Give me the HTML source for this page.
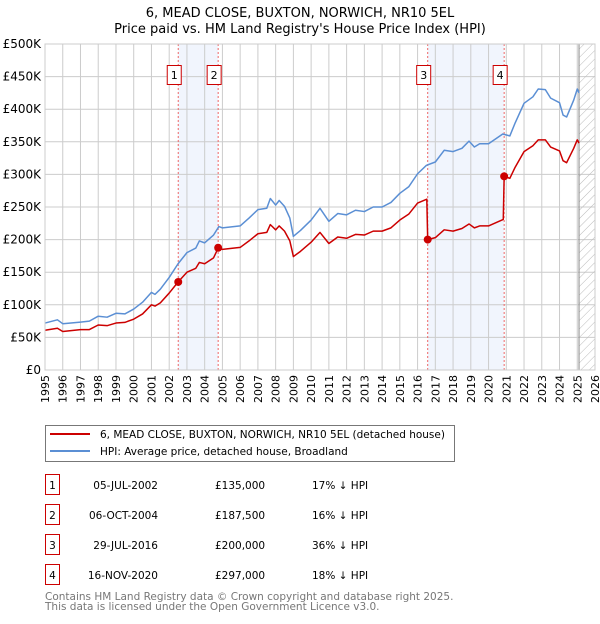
<!DOCTYPE html>
<html><head><meta charset="utf-8"><style>
body{margin:0;background:#fff;font-family:"DejaVu Sans","Liberation Sans",sans-serif;}
svg text{font-family:"DejaVu Sans","Liberation Sans",sans-serif;}
</style></head><body>
<svg id="chart" width="600" height="620" xmlns="http://www.w3.org/2000/svg">
<defs><pattern id="hatch" width="6" height="6" patternUnits="userSpaceOnUse" patternTransform="rotate(45)"><line x1="0" y1="0" x2="0" y2="6" stroke="#bbb" stroke-width="1"/></pattern></defs>
<text x="300" y="17" text-anchor="middle" font-size="13">6, MEAD CLOSE, BUXTON, NORWICH, NR10 5EL</text>
<text x="300" y="33" text-anchor="middle" font-size="13">Price paid vs. HM Land Registry's House Price Index (HPI)</text>
<g id="plot"></g>
<g>
<rect x="45.5" y="425.5" width="409" height="36" fill="#fff" stroke="#777"/>
<line x1="50" y1="434" x2="90" y2="434" stroke="#cc0000" stroke-width="2"/>
<text x="100" y="438" font-size="10.5">6, MEAD CLOSE, BUXTON, NORWICH, NR10 5EL (detached house)</text>
<line x1="50" y1="451" x2="90" y2="451" stroke="#5b8fd4" stroke-width="2"/>
<text x="100" y="455" font-size="10.5">HPI: Average price, detached house, Broadland</text>
</g>
<g id="table" font-size="10.5"></g>
<text x="45" y="600" font-size="10.5" fill="#777">Contains HM Land Registry data © Crown copyright and database right 2025.</text>
<text x="45" y="610" font-size="10.5" fill="#777">This data is licensed under the Open Government Licence v3.0.</text>
</svg>
<script>
const hpiYears=[1995,1995.7,1996,1997,1997.5,1998,1998.5,1999,1999.5,2000,2000.5,2001,2001.2,2001.5,2002,2002.5,2003,2003.5,2003.7,2004,2004.5,2004.8,2005,2006,2006.5,2007,2007.5,2007.7,2008,2008.2,2008.5,2008.8,2009,2009.4,2010,2010.5,2011,2011.5,2012,2012.5,2013,2013.5,2014,2014.5,2015,2015.5,2016,2016.5,2017,2017.5,2018,2018.5,2018.9,2019.2,2019.5,2020,2020.8,2021.2,2021.5,2022,2022.5,2022.8,2023.2,2023.5,2024,2024.2,2024.4,2024.8,2025,2025.1];
const hpiValues=[72,77,71,73.5,75,82.5,81,87,86,93.5,104,119,116,124,142,163,180,187,198,195,207,220,218,221,233,246,248,263,253,260,251,233,205,214,230,248,228,240,238,245,243,250,250,257,271,281,301,314,319,337,335,340,351,342,347,347,362,359,379,409,419,431,430,417,410,391,388,414,431,425];
const ppYears=[1995,1995.7,1996,1997,1997.5,1998,1998.5,1999,1999.5,2000,2000.5,2001,2001.2,2001.5,2002,2002.5,2003,2003.5,2003.7,2004,2004.5,2004.77,2005,2006,2006.5,2007,2007.5,2007.7,2008,2008.2,2008.5,2008.8,2009,2009.4,2010,2010.5,2011,2011.5,2012,2012.5,2013,2013.5,2014,2014.5,2015,2015.5,2016,2016.52,2016.57,2017,2017.5,2018,2018.5,2018.9,2019.2,2019.5,2020,2020.83,2020.88,2021.2,2021.5,2022,2022.5,2022.8,2023.2,2023.5,2024,2024.2,2024.4,2024.8,2025,2025.1];
const ppValues=[61,64,59,62,62,69,68,72,73,78,86,100,98,103,118,135,150,156,165,163,172,187.5,185,188,198,209,211,223,215,221,213,198,174,182,196,211,194,204,202,208,207,213,213,218,230,239,256,262,200,203,215,213,217,224,218,221,221,231,297,294,311,335,344,353,353,342,336,321,318,340,353,348];
const saleYears=[2002.51,2004.76,2016.57,2020.88];
const saleValues=[135,187.5,200,297];
const saleLabels=["1","2","3","4"];
const saleDates=["05-JUL-2002","06-OCT-2004","29-JUL-2016","16-NOV-2020"];
const salePrices=["£135,000","£187,500","£200,000","£297,000"];
const saleDiffs=["17% ↓ HPI","16% ↓ HPI","36% ↓ HPI","18% ↓ HPI"];
const yTicks=[0,50,100,150,200,250,300,350,400,450,500];
const yTickLabels=["£0","£50K","£100K","£150K","£200K","£250K","£300K","£350K","£400K","£450K","£500K"];
const xTicks=[1995,1996,1997,1998,1999,2000,2001,2002,2003,2004,2005,2006,2007,2008,2009,2010,2011,2012,2013,2014,2015,2016,2017,2018,2019,2020,2021,2022,2023,2024,2025,2026];

const NS="http://www.w3.org/2000/svg";
const X0=45,X1=595,Y0=370,Y1=44;
const xs=y=>X0+(y-1995)/(2026-1995)*(X1-X0);
const ys=v=>Y0-v/500*(Y0-Y1);
const plot=document.getElementById('plot');
function mk(tag,attrs,parent){const e=document.createElementNS(NS,tag);for(const k in attrs)e.setAttribute(k,attrs[k]);(parent||plot).appendChild(e);return e;}

for(let i=0;i<2;i++){
  const r=mk('rect',{x:xs(saleYears[2*i]),y:Y1,width:xs(saleYears[2*i+1])-xs(saleYears[2*i]),height:Y0-Y1,fill:'#eef3fc',opacity:0.8});
  
  
}
xTicks.forEach(t=>{
  const l=mk('line',{x1:xs(t),x2:xs(t),y1:Y1,y2:Y0,stroke:'#ccc','stroke-width':1});
  
  
  const tx=mk('text',{x:0,y:0,'font-size':11,'text-anchor':'end',transform:`translate(${xs(t)+4},${Y0+5}) rotate(-90)`});
  tx.textContent=t;
  
  
});
yTicks.forEach((t,i)=>{
  const l=mk('line',{x1:X0,x2:X1,y1:ys(t),y2:ys(t),stroke:'#ccc','stroke-width':1});
  
  
  const tx=mk('text',{x:X0-4,y:ys(t)+4,'font-size':12,'text-anchor':'end'});
  tx.textContent=yTickLabels[i];
  
  
});
const hx=xs(2025.1);
const hr=mk('rect',{x:hx,y:Y1,width:X1-hx,height:Y0-Y1,fill:'url(#hatch)'});


const hl=mk('line',{x1:hx,x2:hx,y1:Y1,y2:Y0,stroke:'#888','stroke-width':1});


saleYears.forEach((s,i)=>{
  const l=mk('line',{x1:xs(s),x2:xs(s),y1:Y1,y2:Y0,stroke:'#e66','stroke-width':1,'stroke-dasharray':'2,2'});
  
  
});
function line(xa,va,color,name){
  const p=mk('polyline',{points:xa.map((x,i)=>xs(x)+','+ys(va[i])).join(' '),fill:'none',stroke:color,'stroke-width':1.5,'stroke-linejoin':'round'});
  
  
}
line(hpiYears,hpiValues,'#5b8fd4','hpi-line');
line(ppYears,ppValues,'#cc0000','price-paid-line');
saleYears.forEach((s,i)=>{
  const c=mk('circle',{cx:xs(s),cy:ys(saleValues[i]),r:4,fill:'#cc0000'});
  
  
  const g=mk('g',{});
  
  
  mk('rect',{x:xs(s)-11,y:65.5,width:14,height:19,fill:'#fff',stroke:'#cc0000'},g);
  const t=mk('text',{x:xs(s)-4,y:79,'font-size':11,'text-anchor':'middle'},g);
  t.textContent=saleLabels[i];
});
const border=mk('rect',{x:X0,y:Y1,width:X1-X0,height:Y0-Y1,fill:'none',stroke:'#ccc'});


const tb=document.getElementById('table');
saleLabels.forEach((lab,i)=>{
  const cy=483+i*30;
  const g=mk('g',{},tb);
  
  
  mk('rect',{x:45.5,y:cy-8.5,width:14,height:20,fill:'#fff',stroke:'#cc0000'},g);
  const t0=mk('text',{x:52.5,y:cy+6,'text-anchor':'middle'},g);t0.textContent=lab;
  const t1=mk('text',{x:158,y:cy+6,'text-anchor':'end'},g);t1.textContent=saleDates[i];
  const t2=mk('text',{x:215,y:cy+6},g);t2.textContent=salePrices[i];
  const t3=mk('text',{x:312,y:cy+6},g);t3.textContent=saleDiffs[i];
});
</script>
</body></html>
